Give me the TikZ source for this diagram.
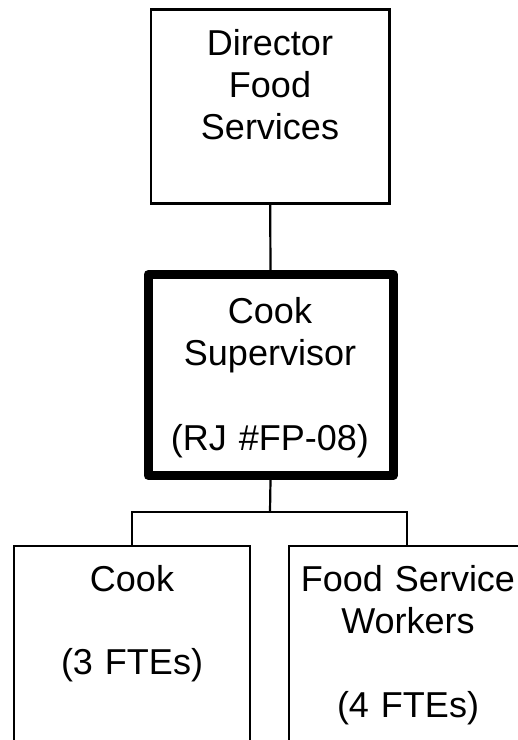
\documentclass[tikz,border=0pt]{standalone}
\usepackage{fontspec}
\setmainfont{Liberation Sans}
\begin{document}
\begin{tikzpicture}[x=1pt,y=-1pt,
  box/.style={draw=black, rectangle, inner sep=0pt, line width=2.2pt},
  bossbox/.style={draw=black, rectangle, inner sep=0pt, line width=9pt, line join=round},
  txt/.style={anchor=base, inner sep=0pt, text width=260pt, align=center,
    font=\fontsize{36}{42}\selectfont},
  link/.style={draw=black, line width=2.2pt}]
\useasboundingbox (0,0) rectangle (518,740);
\clip (0,0) rectangle (518,740);
% boxes
\node[box, minimum width=238.5pt, minimum height=194pt] (dir) at (270.2,106.5) {};
\node[bossbox, minimum width=245pt, minimum height=201pt] (sup) at (270.5,375) {};
\node[box, minimum width=236.3pt, minimum height=300pt] (cook) at (131.9,696.3) {};
\node[box, minimum width=236pt, minimum height=300pt] (fsw) at (406.7,696.3) {};
% texts
\node[txt] (tdir) at (270,55) {Director\\Food\\Services};
\node[txt] (tsup) at (270,323) {Cook\\Supervisor\\[43pt](RJ \#FP-08)};
\node[txt] (tcook) at (132,591) {Cook\\[41pt](3 FTEs)};
\node[txt] (tfsw) at (408,591) {Food Service\\Workers\\[42pt](4 FTEs)};
% connectors
\coordinate (bar) at (270,512);
\draw[link] (dir.south) -- (sup.north);
\draw[link] (sup.south) -- (bar);
\draw[link] (cook.north) |- (bar) -| (fsw.north);
\end{tikzpicture}
\end{document}
